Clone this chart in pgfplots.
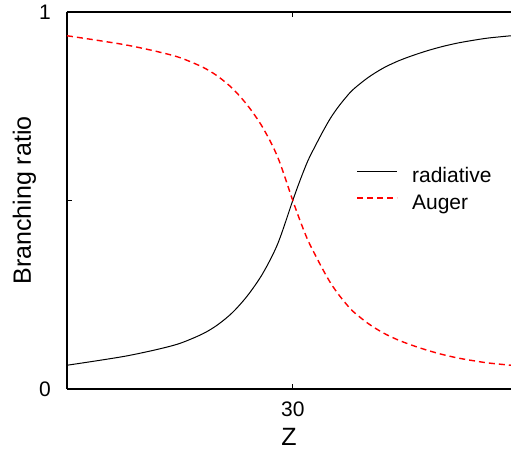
\documentclass[border=0pt]{standalone}
\usepackage{pgfplots}
\pgfplotsset{compat=1.18}
\usepackage{fontspec}
\setmainfont{Liberation Sans}

% Radiative (fluorescence) and Auger branching ratios versus atomic number Z
\pgfplotstableread{
Z   ratio
0   0.063
4   0.075
8   0.088
12  0.105
15  0.121
18  0.146
20  0.170
22  0.203
24  0.248
26  0.306
28  0.385
30  0.500
31  0.555
32  0.605
33  0.645
34  0.683
35  0.718
36  0.747
37  0.772
38  0.794
40  0.826
42  0.851
44  0.870
46  0.885
48  0.898
50  0.909
52  0.918
54  0.925
56  0.931
59  0.937
}\radiative

\pgfplotstableread{
Z   ratio
0   0.937
4   0.925
8   0.912
12  0.895
15  0.879
18  0.854
20  0.830
22  0.797
24  0.752
26  0.694
28  0.615
30  0.500
31  0.445
32  0.395
33  0.355
34  0.317
35  0.282
36  0.253
37  0.228
38  0.206
40  0.174
42  0.149
44  0.130
46  0.115
48  0.102
50  0.091
52  0.082
54  0.075
56  0.069
59  0.063
}\auger

\begin{document}
\begin{tikzpicture}[x=1pt,y=1pt]
\useasboundingbox (-67,-61) rectangle (445,389);
\begin{axis}[
  at={(0,0)}, anchor=south west,
  scale only axis, width=444pt, height=377pt,
  xmin=0, xmax=59, ymin=0, ymax=1,
  axis y line*=left,
  axis line style={line width=1.2pt},
  every tick/.style={black, line width=1pt},
  tick align=inside,
  major tick length=5pt,
  xtick={30},
  ytick={0,0.5,1},
  yticklabels={0,,1},
  tick label style={font=\fontsize{21}{25}\selectfont},
  yticklabel style={anchor=east, inner sep=0pt, xshift=-16pt},
  xticklabel style={anchor=north, inner sep=0pt, yshift=-12.5pt},
  /pgf/number format/assume math mode=true,
  xlabel={Z},
  ylabel={Branching ratio},
  label style={font=\fontsize{25}{30}\selectfont},
  xlabel style={at={(axis description cs:0.5,-0.1273)}, anchor=center},
  ylabel style={at={(axis description cs:-0.0957,0.5)}, anchor=center},
  legend cell align=left,
  legend image code/.code={\draw[#1] (0pt,6.5pt) -- (40pt,6.5pt);},
  legend style={draw=none, fill=none, font=\fontsize{21}{25}\selectfont,
    at={(axis description cs:0.652,0.588)}, anchor=north west,
    inner sep=0pt, row sep=7pt,
    nodes={inner xsep=7pt, inner ysep=0pt, text height=15pt, text depth=5pt},
    /tikz/every odd column/.append style={column sep=7pt}},
]
\addplot[black, line width=1pt, smooth] table[x=Z, y=ratio] {\radiative};
\addlegendentry{radiative}
\addplot[red, line width=1.4pt, smooth, dash pattern=on 6pt off 4pt] table[x=Z, y=ratio] {\auger};
\addlegendentry{Auger}
\end{axis}
\end{tikzpicture}
\end{document}
